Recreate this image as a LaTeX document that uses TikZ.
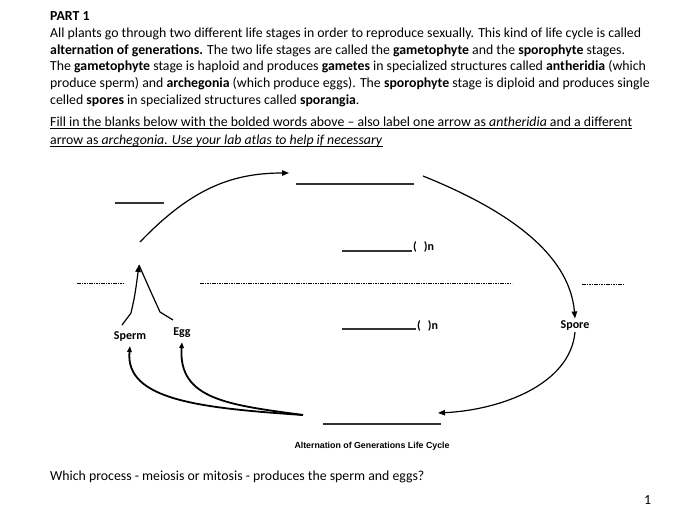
\documentclass[tikz,border=0pt]{standalone}
\usepackage{fontspec}
\setmainfont{Carlito}
\newfontfamily\arialfont{Liberation Sans}
\usetikzlibrary{arrows.meta}
\begin{document}
\begin{tikzpicture}[x=1pt,y=-1pt,
 txt/.style={anchor=base west,inner sep=0pt,font=\fontsize{13.8}{16.8}\selectfont},
 lbl/.style={inner sep=0pt,font=\fontsize{12}{14}\selectfont\bfseries},
 blank/.style={line width=1.1pt,draw=black!80},
 dashline/.style={line width=0.8pt,dash pattern=on 1.6pt off 0.8pt},
 cyc/.style={line width=1.2pt,-{Triangle[length=7pt,width=5.5pt]}},
 thickcyc/.style={line width=1.8pt,-{Triangle[length=6pt,width=4.5pt]}}]
\useasboundingbox (0,0) rectangle (700,524);
\fill[white] (0,0) rectangle (700,524);

% header text
\node[txt] (t0) at (50,21) {\textbf{PART 1}};
\node[txt] (t1) at (50,38) {All plants go through two different life stages in order to reproduce sexually.  This kind of life cycle is called};
\node[txt] (t2) at (50,55) {\textbf{alternation of generations.}  The two life stages are called the \textbf{gametophyte} and the \textbf{sporophyte} stages.};
\node[txt] (t3) at (50,71) {The \textbf{gametophyte} stage is haploid and produces \textbf{gametes} in specialized structures called \textbf{antheridia} (which};
\node[txt] (t4) at (50,88) {produce sperm) and \textbf{archegonia} (which produce eggs).  The \textbf{sporophyte} stage is diploid and produces single};
\node[txt] (t5) at (50,105) {celled \textbf{spores} in specialized structures called \textbf{sporangia}.};
\node[txt] (f1) at (50,126) {Fill in the blanks below with the bolded words above -- also label one arrow as \textit{antheridia} and a different};
\node[txt] (f2) at (50,144) {arrow as \textit{archegonia.  Use your lab atlas to help if necessary}};
\draw[line width=0.7pt] ([yshift=-2.6pt]f1.base west) -- ([yshift=-2.6pt]f1.base east);
\draw[line width=0.7pt] ([yshift=-2.6pt]f2.base west) -- ([yshift=-2.6pt]f2.base east);

% blanks
\coordinate (b1a) at (115,203); \coordinate (b1b) at (164,203);
\draw[blank] (b1a) -- (b1b);
\coordinate (b2a) at (296,184); \coordinate (b2b) at (414,184);
\draw[blank] (b2a) -- (b2b);
\coordinate (b3a) at (342,251); \coordinate (b3b) at (412,251);
\draw[blank] (b3a) -- (b3b);
\node[lbl,anchor=base west] (n1) at (413,250) {(\hspace{7pt})n};
\coordinate (b4a) at (342,329); \coordinate (b4b) at (416,329);
\draw[blank] (b4a) -- (b4b);
\node[lbl,anchor=base west] (n2) at (417,329) {(\hspace{7pt})n};
\coordinate (b5a) at (323,424); \coordinate (b5b) at (441,424);
\draw[blank] (b5a) -- (b5b);

% dashed lines
\coordinate (d1a) at (77,283); \coordinate (d1b) at (125,283);
\draw[dashline] (d1a) -- (d1b);
\coordinate (d2a) at (200,283); \coordinate (d2b) at (512,283);
\draw[dashline] (d2a) -- (d2b);
\coordinate (d3a) at (582,284); \coordinate (d3b) at (623,284);
\draw[dashline] (d3a) -- (d3b);

% labels
\node[lbl] (sperm) at (130,337) {Sperm};
\node[lbl] (egg) at (182,333) {Egg};
\node[lbl] (spore) at (575,326) {Spore};

% cycle arrows
\coordinate (z) at (139,265);
\coordinate (a1) at (140,242);
\coordinate (a1e) at (289,173);
\draw[cyc] (a1) .. controls (190,190) and (230,173) .. (a1e);
\coordinate (a2) at (423,176);
\draw[cyc] (a2) .. controls (520,215) and (570,260) .. ([yshift=2.5pt]spore.north);
\coordinate (a3e) at (438,413);
\draw[cyc] ([yshift=-1pt]spore.south) .. controls (570,385) and (500,410) .. (a3e);

% fertilisation: sperm + egg join
\draw[line width=1.2pt,-{Triangle[length=7pt,width=5.5pt]}] (122,325) -- (131,313) .. controls (135,295) .. (z);
\draw[line width=1.2pt] (173,320) -- (160,312) .. controls (150,290) .. (z);

% gamete production arrows
\coordinate (g) at (303,415);
\draw[thickcyc] (g) .. controls (200,408) and (125,400) .. ([yshift=-4pt]sperm.south);
\draw[thickcyc] (g) .. controls (230,405) and (178,400) .. ([yshift=-4pt]egg.south);

% caption and question
\node[inner sep=0pt,font=\arialfont\fontsize{8.8}{10}\selectfont\bfseries] (cap) at (372,446) {Alternation of Generations Life Cycle};
\node[txt] (q) at (50,480) {Which process - meiosis or mitosis - produces the sperm and eggs?};
\node[txt] (pg) at (644,504) {1};
\end{tikzpicture}
\end{document}
